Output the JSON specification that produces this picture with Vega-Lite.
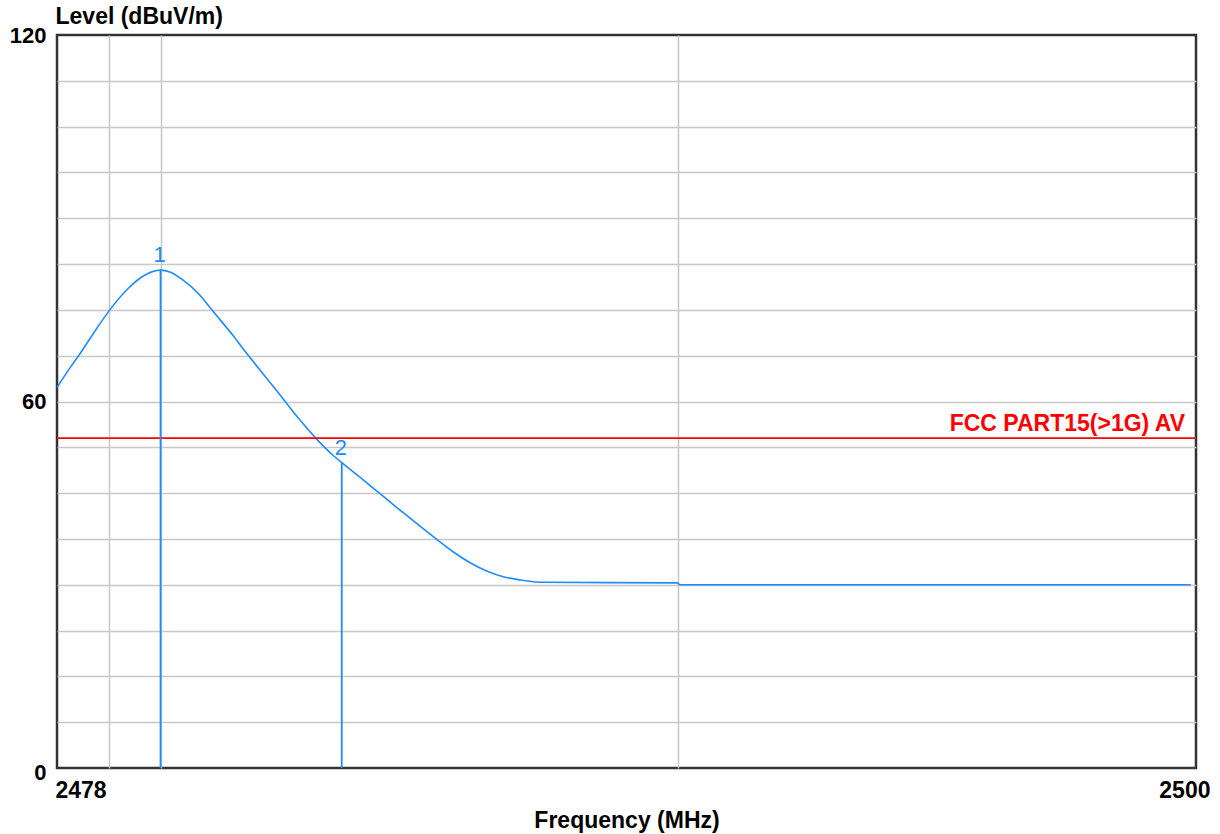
{
  "$schema": "https://vega.github.io/schema/vega-lite/v6.json",
  "width": 1139,
  "height": 733,
  "autosize": {"type": "none"},
  "padding": {"left": 57, "top": 35, "right": 24, "bottom": 66},
  "background": "white",
  "config": {
    "view": {"stroke": "#333333", "strokeWidth": 2.5},
    "font": "Liberation Sans"
  },
  "datasets": {
    "trace": [
      {"freq": 2478.00, "level": 62.3},
      {"freq": 2478.25, "level": 65.5},
      {"freq": 2478.45, "level": 67.9},
      {"freq": 2478.77, "level": 72.0},
      {"freq": 2479.02, "level": 75.0},
      {"freq": 2479.35, "level": 78.3},
      {"freq": 2479.66, "level": 80.5},
      {"freq": 2480.00, "level": 81.5},
      {"freq": 2480.18, "level": 81.2},
      {"freq": 2480.43, "level": 79.9},
      {"freq": 2480.76, "level": 77.4},
      {"freq": 2481.01, "level": 74.8},
      {"freq": 2481.40, "level": 70.8},
      {"freq": 2481.67, "level": 67.8},
      {"freq": 2482.06, "level": 63.7},
      {"freq": 2482.37, "level": 60.4},
      {"freq": 2482.69, "level": 57.0},
      {"freq": 2483.02, "level": 53.8},
      {"freq": 2483.33, "level": 51.2},
      {"freq": 2483.50, "level": 50.0},
      {"freq": 2483.91, "level": 47.2},
      {"freq": 2484.24, "level": 44.9},
      {"freq": 2484.57, "level": 42.6},
      {"freq": 2484.88, "level": 40.5},
      {"freq": 2485.34, "level": 37.4},
      {"freq": 2485.65, "level": 35.4},
      {"freq": 2485.98, "level": 33.6},
      {"freq": 2486.31, "level": 32.2},
      {"freq": 2486.62, "level": 31.3},
      {"freq": 2486.94, "level": 30.8},
      {"freq": 2487.39, "level": 30.4},
      {"freq": 2489.98, "level": 30.3},
      {"freq": 2490.03, "level": 30.0},
      {"freq": 2499.90, "level": 30.0}
    ],
    "markers": [
      {"freq": 2480.0, "level": 81.5, "marker": "1"},
      {"freq": 2483.5, "level": 50.0, "marker": "2"}
    ],
    "limit": [
      {"freq": 2500, "level": 54, "label": "FCC PART15(>1G) AV"}
    ]
  },
  "layer": [
    {
      "data": {"name": "trace"},
      "mark": {"type": "line", "color": "#1E8CFF", "strokeWidth": 1.6, "interpolate": "monotone"},
      "encoding": {
        "x": {
          "field": "freq",
          "type": "quantitative",
          "scale": {"domain": [2478, 2500], "nice": false, "zero": false},
          "axis": {
            "values": [2478, 2479, 2480, 2490, 2500],
            "format": "d",
            "labelExpr": "datum.value == 2478 || datum.value == 2500 ? datum.label : ''",
            "ticks": false,
            "tickSize": 0,
            "domain": false,
            "grid": true,
            "gridColor": "#c8c8c8",
            "gridWidth": 1.5,
            "gridOpacity": {"condition": {"test": "datum.value == 2478 || datum.value == 2500", "value": 0}, "value": 1},
            "labelFlush": false,
            "labelAlign": {"condition": {"test": "datum.value == 2500", "value": "right"}, "value": "left"},
            "labelOffset": {"condition": {"test": "datum.value == 2500", "value": 14}, "value": -2},
            "labelBaseline": "alphabetic",
            "labelPadding": 29,
            "labelFontSize": 23,
            "labelFontWeight": "bold",
            "labelColor": "#000000",
            "title": "Frequency (MHz)",
            "titleFontSize": 23,
            "titleFontWeight": "bold",
            "titleColor": "#000000",
            "titleBaseline": "alphabetic",
            "titleY": 59
          }
        },
        "y": {
          "field": "level",
          "type": "quantitative",
          "scale": {"domain": [0, 120], "nice": false},
          "axis": {
            "values": [0, 7.5, 15, 22.5, 30, 37.5, 45, 52.5, 60, 67.5, 75, 82.5, 90, 97.5, 105, 112.5, 120],
            "labelExpr": "datum.value % 60 == 0 ? datum.label : ''",
            "ticks": false,
            "tickSize": 0,
            "domain": false,
            "grid": true,
            "gridColor": "#c8c8c8",
            "gridWidth": 1.5,
            "gridOpacity": {"condition": {"test": "datum.value == 0 || datum.value == 120", "value": 0}, "value": 1},
            "labelPadding": 11,
            "labelBaseline": "middle",
            "labelOffset": {"condition": {"test": "datum.value == 0", "value": 4}, "value": 0},
            "labelFontSize": 22,
            "labelFontWeight": "bold",
            "labelColor": "#000000",
            "title": "Level (dBuV/m)",
            "titleAngle": 0,
            "titleAlign": "left",
            "titleBaseline": "alphabetic",
            "titleX": -2,
            "titleY": -12,
            "titleFontSize": 23,
            "titleFontWeight": "bold",
            "titleColor": "#000000"
          }
        }
      }
    },
    {
      "data": {"name": "limit"},
      "mark": {"type": "rule", "color": "#FF0000", "strokeWidth": 1.8},
      "encoding": {
        "y": {"field": "level", "type": "quantitative"}
      }
    },
    {
      "data": {"name": "limit"},
      "mark": {"type": "text", "color": "#FF0000", "fontSize": 23, "fontWeight": "bold", "align": "right", "baseline": "alphabetic", "dx": -11, "dy": -7},
      "encoding": {
        "x": {"field": "freq", "type": "quantitative"},
        "y": {"field": "level", "type": "quantitative"},
        "text": {"field": "label"}
      }
    },
    {
      "data": {"name": "markers"},
      "mark": {"type": "rule", "color": "#1E8CFF", "strokeWidth": 1.8},
      "encoding": {
        "x": {"field": "freq", "type": "quantitative"},
        "y": {"field": "level", "type": "quantitative"},
        "y2": {"datum": 0}
      }
    },
    {
      "data": {"name": "markers"},
      "mark": {"type": "text", "color": "#1E8CFF", "fontSize": 22, "fontWeight": "normal", "align": "center", "baseline": "alphabetic", "dy": -8, "dx": -1},
      "encoding": {
        "x": {"field": "freq", "type": "quantitative"},
        "y": {"field": "level", "type": "quantitative"},
        "text": {"field": "marker"}
      }
    }
  ]
}
